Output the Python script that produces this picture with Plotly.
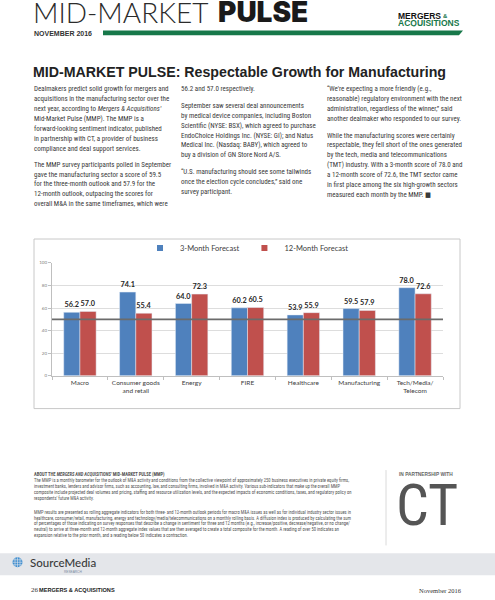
import plotly.graph_objects as go

W, H = 495, 600

# ---------------- data ----------------
categories = ["Macro", "Consumer goods<br>and retail", "Energy", "FIRE",
              "Healthcare", "Manufacturing", "Tech/Media/<br>Telecom"]
three_month = [56.2, 74.1, 64.0, 60.2, 53.9, 59.5, 78.0]
twelve_month = [57.0, 55.4, 72.3, 60.5, 55.9, 57.9, 72.6]
series_names = ["3-Month Forecast", "12-Month Forecast"]
y_ticks = [0, 20, 40, 60, 80, 100]
threshold = 50

# ---------------- page text ----------------
col1_p1 = ["Dealmakers predict solid growth for mergers and",
           "acquisitions in the manufacturing sector over the",
           "next year, according to <i>Mergers &amp; Acquisitions'</i>",
           "Mid-Market Pulse (MMP). The MMP is a",
           "forward-looking sentiment indicator, published",
           "in partnership with CT, a provider of business",
           "compliance and deal support services."]
col1_p2 = ["The MMP survey participants polled in September",
           "gave the manufacturing sector a score of 59.5",
           "for the three-month outlook and 57.9 for the",
           "12-month outlook, outpacing the scores for",
           "overall M&amp;A in the same timeframes, which were"]
col2_p1 = ["56.2 and 57.0 respectively."]
col2_p2 = ["September saw several deal announcements",
           "by medical device companies, including Boston",
           "Scientific (NYSE: BSX), which agreed to purchase",
           "EndoChoice Holdings Inc. (NYSE: GI); and Natus",
           "Medical Inc. (Nasdaq: BABY), which agreed to",
           "buy a division of GN Store Nord A/S."]
col2_p3 = ["\u201cU.S. manufacturing should see some tailwinds",
           "once the election cycle concludes,\u201d said one",
           "survey participant."]
col3_p1 = ["\u201cWe're expecting a more friendly (e.g.,",
           "reasonable) regulatory environment with the next",
           "administration, regardless of the winner,\u201d said",
           "another dealmaker who responded to our survey."]
col3_p2 = ["While the manufacturing scores were certainly",
           "respectable, they fell short of the ones generated",
           "by the tech, media and telecommunications",
           "(TMT) industry. With a 3-month score of 78.0 and",
           "a 12-month score of 72.6, the TMT sector came",
           "in first place among the six high-growth sectors",
           "measured each month by the MMP. \u25a0"]
about_title = "ABOUT THE <i>MERGERS AND ACQUISITIONS'</i> MID-MARKET PULSE (MMP)"
about_p1 = ["The MMP is a monthly barometer for the outlook of M&amp;A activity and conditions from the collective viewpoint of approximately 250 business executives in private equity firms,",
            "investment banks, lenders and advisor firms, such as accounting, law, and consulting firms, involved in M&amp;A activity. Various sub-indicators that make up the overall MMP",
            "composite include projected deal volumes and pricing, staffing and resource utilization levels, and the expected impacts of economic conditions, taxes, and regulatory policy on",
            "respondents' future M&amp;A activity."]
about_p2 = ["MMP results are presented as rolling aggregate indicators for both three- and 12-month outlook periods for macro M&amp;A issues as well as for individual industry sector issues in",
            "healthcare, consumer/retail, manufacturing, energy and technology/media/telecommunications on a monthly rolling basis. A diffusion index is produced by calculating the sum",
            "of percentages of those indicating on survey responses that describe a change in sentiment for three and 12 months (e.g., increase/positive, decrease/negative, or no change/",
            "neutral) to arrive at three-month and 12-month aggregate index values that are then averaged to create a total composite for the month. A reading of over 50 indicates an",
            "expansion relative to the prior month, and a reading below 50 indicates a contraction."]

BLUE = "#4F81BD"
RED = "#C0504D"
GREEN = "#17784A"
NARROW = "Liberation Sans Narrow, Arial Narrow, Roboto Condensed, DejaVu Sans Condensed, sans-serif"
SANS = "Liberation Sans, Arial, sans-serif"
CHARTF = "Lato, Open Sans, sans-serif"


def px(x):
    return x / W


def py(y):
    return 1 - y / H


annotations = []
shapes = []


def txt(x, y, s, size, color="#3a3a3a", family=NARROW, xanchor="left",
        yanchor="middle", weight="normal", **extra):
    d = dict(x=px(x), y=py(y), xref="paper", yref="paper",
             text=s, showarrow=False, xanchor=xanchor,
             yanchor=yanchor, align="left", borderpad=0,
             font=dict(size=size, color=color, family=family, weight=weight))
    d.update(extra)
    annotations.append(d)


def lines(x, y0, arr, step=10.0, size=7, **kw):
    for i, s in enumerate(arr):
        txt(x, y0 + i * step, s, size, **kw)


fig = go.Figure()
for vals, nm, c in zip([three_month, twelve_month], series_names, [BLUE, RED]):
    fig.add_trace(go.Bar(x=categories, y=vals, name=nm,
                         marker_color=c, showlegend=False,
                         texttemplate="%{y:.1f}", textposition="outside",
                         constraintext="none", cliponaxis=False,
                         textfont=dict(size=7.3, color="#262626", family=CHARTF, weight="bold")))
# legend proxies
for nm, c in zip(series_names, [BLUE, RED]):
    fig.add_trace(go.Scatter(x=[None], y=[None], mode="markers", name=nm,
                             marker=dict(symbol="square", size=6, color=c)))

# threshold line
shapes.append(dict(type="line", xref="x domain", yref="y", x0=0, x1=1,
                   y0=threshold, y1=threshold, layer="above",
                   line=dict(color="#6b6b6b", width=1.8)))
# chart border
shapes.append(dict(type="rect", xref="paper", yref="paper", x0=px(34), x1=px(460),
                   y0=py(410), y1=py(239), line=dict(color="#C8C8C8", width=1)))

# ---------- header ----------
txt(32, 28.5, "MID-MARKET", 28, color="#2b2b2b", family="Lato, sans-serif",
    yanchor="bottom", weight=300)
txt(217, 28.5, "PULSE", 28, color="#1a1a1a", family="Inter, Liberation Sans, sans-serif",
    yanchor="bottom", weight=900)
txt(33, 31.5, "NOVEMBER 2016", 7, color="#333333", family=SANS, weight="bold")
shapes.append(dict(type="path", xref="paper", yref="paper",
                   path=f"M {px(103)},{py(28.8)} L {px(463)},{py(28.8)} L {px(459)},{py(33.5)} L {px(103)},{py(33.5)} Z",
                   fillcolor=GREEN, line=dict(width=0)))
txt(397, 13.5, "MERGERS", 8.5, color="#111111", family=SANS, weight="bold", height=7.4)
txt(441.5, 13.5, "&amp;", 6, color=GREEN, family=SANS, weight="bold", height=7.4)
txt(397, 21, "ACQUISITIONS", 8.5, color=GREEN, family=SANS, weight="bold", height=7.4)

# ---------- title ----------
txt(32, 71, "MID-MARKET PULSE: Respectable Growth for Manufacturing", 14.2,
    color="#222222", family=SANS, weight="bold")

# ---------- body columns ----------
lines(33, 88, col1_p1)
lines(33, 164, col1_p2)
lines(180, 88, col2_p1)
lines(180, 104.7, col2_p2)
lines(180, 171.4, col2_p3)
lines(326, 88, col3_p1)
lines(326, 134.7, col3_p2)

# ---------- about box ----------
txt(33, 476, about_title, 4.6, color="#555555", weight="bold")
lines(33, 482, about_p1, step=5.9, size=4.6, color="#555555")
lines(33, 514, about_p2, step=5.9, size=4.6, color="#555555")
shapes.append(dict(type="line", xref="paper", yref="paper", x0=px(386), x1=px(386),
                   y0=py(472), y1=py(548), line=dict(color="#D0D0D0", width=0.8)))
txt(398, 476, "IN PARTNERSHIP WITH", 4.8, color="#666666", family=SANS, weight="bold")
txt(427, 507, "CT", 58, color="#555555", xanchor="center", height=44)

# ---------- footer band ----------
shapes.append(dict(type="rect", xref="paper", yref="paper", x0=0, x1=1,
                   y0=py(578), y1=py(556), fillcolor="#E4E6EA", line=dict(width=0),
                   layer="below"))
shapes.append(dict(type="circle", xref="paper", yref="paper", x0=px(12.5), x1=px(22.5),
                   y0=py(570), y1=py(560), fillcolor="#3E8ED0", line=dict(width=0)))
for k in range(1, 4):
    xx = 12.5 + k * 2.5
    shapes.append(dict(type="line", xref="paper", yref="paper", x0=px(xx), x1=px(xx),
                       y0=py(570), y1=py(560), line=dict(color="#E4E6EA", width=0.6)))
    yy = 560 + k * 2.5
    shapes.append(dict(type="line", xref="paper", yref="paper", x0=px(12.5), x1=px(22.5),
                       y0=py(yy), y1=py(yy), line=dict(color="#E4E6EA", width=0.6)))
txt(29, 565.5, "SourceMedia", 11.5, color="#3a3a3a", family="Lato, sans-serif", weight=500)
txt(63, 575, "RESEARCH", 3.2, color="#7a8aa0", family=SANS)
txt(30, 593, "26", 7, color="#333333", family="Liberation Serif, serif")
txt(38, 593, "MERGERS &amp; ACQUISITIONS", 5.6, color="#222222", family=SANS, weight="bold")
txt(463, 593, "November 2016", 6.5, color="#333333", family="Liberation Serif, serif",
    xanchor="right")

fig.update_layout(
    width=W, height=H, margin=dict(l=0, r=0, t=0, b=0),
    paper_bgcolor="white", plot_bgcolor="white",
    barmode="group", bargap=0.42, bargroupgap=0,
    showlegend=True,
    legend=dict(orientation="h", x=0.499, xanchor="center", y=py(248), yanchor="middle",
                font=dict(size=7.5, color="#404040", family=CHARTF),
                bgcolor="rgba(0,0,0,0)", itemwidth=30, tracegroupgap=0),
    xaxis=dict(domain=[px(52), px(443)], showline=True, linecolor="#BFBFBF",
               ticks="outside", tickson="boundaries", ticklen=3, tickcolor="#BFBFBF",
               tickangle=0,
               tickfont=dict(size=6.5, color="#404040", family=CHARTF),
               showgrid=False, fixedrange=True),
    yaxis=dict(domain=[py(377), py(263)], range=[0, 100], tickvals=y_ticks,
               showline=True, linecolor="#BFBFBF", ticks="outside", ticklen=3,
               tickcolor="#BFBFBF", gridcolor="#DDDDDD", gridwidth=0.7,
               zeroline=False, tickfont=dict(size=4.5, color="#808080", family=CHARTF)),
    annotations=annotations, shapes=shapes,
)

fig.write_html(
    "out.html",
    config={"displayModeBar": False},
    post_script="document.body.style.margin='0';document.body.style.padding='0';"
                "document.documentElement.style.overflow='hidden';",
)
